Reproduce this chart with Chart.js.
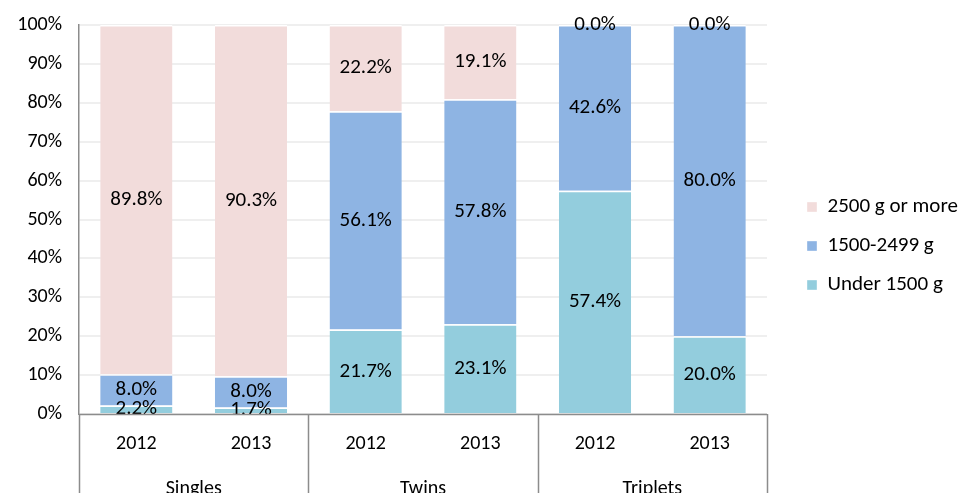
<!DOCTYPE html>
<html>
<head>
<meta charset="utf-8">
<script src="https://cdn.jsdelivr.net/npm/chart.js@4.4.1/dist/chart.umd.min.js"></script>
<style>
  html, body { margin: 0; padding: 0; background: #fff; }
  #wrap { width: 960px; height: 493px; }
</style>
</head>
<body>
<div id="wrap"><canvas id="birthChart"></canvas></div>
<script>
// Birth weight share by plurality, two years each
const years = ['2012', '2013', '2012', '2013', '2012', '2013'];
const groups = ['Singles', 'Twins', 'Triplets'];
const under1500 = [2.2, 1.7, 21.7, 23.1, 57.4, 20.0];
const mid1500to2499 = [8.0, 8.0, 56.1, 57.8, 42.6, 80.0];
const over2500 = [89.8, 90.3, 22.2, 19.1, 0.0, 0.0];

const colors = {
  teal: '#93CDDD',
  blue: '#8EB4E3',
  pink: '#F2DCDB',
  axis: '#8C8C8C',
  grid: '#EFEFEF',
  text: '#000000'
};
const fontFamily = "Carlito, Calibri, 'Open Sans', sans-serif";
const fontSize = 20;

// percentage text in the middle of every segment
const segmentLabels = {
  id: 'segmentLabels',
  afterDatasetsDraw(chart) {
    const ctx = chart.ctx;
    ctx.save();
    ctx.font = '21px ' + fontFamily;
    ctx.fillStyle = colors.text;
    ctx.textAlign = 'center';
    ctx.textBaseline = 'middle';
    chart.data.datasets.forEach((ds, di) => {
      chart.getDatasetMeta(di).data.forEach((bar, i) => {
        const y = (bar.y + bar.base) / 2;
        ctx.fillText(ds.data[i].toFixed(1) + '%', bar.x, y);
      });
    });
    ctx.restore();
  }
};

// second row of category labels with separators
const groupAxis = {
  id: 'groupAxis',
  afterDraw(chart) {
    const ctx = chart.ctx;
    const x = chart.scales.x;
    const step = (x.right - x.left) / years.length;
    const per = years.length / groups.length;
    ctx.save();
    ctx.strokeStyle = colors.axis;
    ctx.lineWidth = 1.5;
    ctx.beginPath();
    for (let k = 0; k <= groups.length; k++) {
      const px = Math.round(x.left + k * per * step) + 0.5;
      ctx.moveTo(px, x.top);
      ctx.lineTo(px, chart.height);
    }
    ctx.moveTo(x.left, x.top + 0.5);
    ctx.lineTo(x.right, x.top + 0.5);
    ctx.stroke();
    ctx.font = fontSize + 'px ' + fontFamily;
    ctx.fillStyle = colors.text;
    ctx.textAlign = 'center';
    ctx.textBaseline = 'middle';
    groups.forEach((g, i) => {
      ctx.fillText(g, x.left + (i + 0.5) * per * step, x.top + 75);
    });
    ctx.restore();
  }
};

// fixed legend column, items pushed in from its left edge
const legendColumn = 193;
const legendIndent = 22;
const legendRaise = 13;
const legendPlacement = {
  id: 'legendPlacement',
  beforeInit(chart) {
    const fit = chart.legend.fit;
    chart.legend.fit = function () {
      fit.bind(chart.legend)();
      this.width = legendColumn;
    };
  },
  afterLayout(chart) {
    chart.legend.left += legendIndent;
    chart.legend.top -= legendRaise;
    chart.legend.bottom -= legendRaise;
  }
};

const segment = { top: 1.5, left: 0, right: 0, bottom: 0 };

new Chart(document.getElementById('birthChart'), {
  type: 'bar',
  data: {
    labels: years,
    datasets: [
      {
        label: 'Under 1500 g',
        data: under1500,
        backgroundColor: colors.teal,
        borderColor: '#fff',
        borderWidth: segment,
        borderSkipped: false
      },
      {
        label: '1500-2499 g',
        data: mid1500to2499,
        backgroundColor: colors.blue,
        borderColor: '#fff',
        borderWidth: segment,
        borderSkipped: false
      },
      {
        label: '2500 g or more',
        data: over2500,
        backgroundColor: colors.pink,
        borderColor: '#fff',
        borderWidth: segment,
        borderSkipped: false
      }
    ]
  },
  options: {
    responsive: true,
    maintainAspectRatio: false,
    animation: false,
    layout: { padding: { top: 25, left: 0, right: 0, bottom: 0 } },
    datasets: {
      bar: { barPercentage: 0.63, categoryPercentage: 1.0 }
    },
    plugins: {
      legend: {
        position: 'right',
        reverse: true,
        labels: {
          boxWidth: 10,
          boxHeight: 10,
          padding: 18,
          color: colors.text,
          font: { family: fontFamily, size: 21 }
        }
      },
      tooltip: { enabled: false }
    },
    scales: {
      x: {
        stacked: true,
        grid: { display: false, drawTicks: false },
        border: { display: false },
        ticks: {
          padding: 18,
          color: colors.text,
          font: { family: fontFamily, size: fontSize }
        },
        afterFit(scale) { scale.height = 79; }
      },
      y: {
        stacked: true,
        min: 0,
        max: 100,
        grid: { color: colors.grid, lineWidth: 2, drawTicks: false },
        border: { display: true, color: colors.axis, width: 1.5 },
        ticks: {
          stepSize: 10,
          padding: 17,
          color: colors.text,
          font: { family: fontFamily, size: fontSize },
          callback: v => v + '%'
        },
        afterFit(scale) {
          scale.width = 79;
          scale.paddingTop = 0;
          scale.paddingBottom = 0;
        }
      }
    }
  },
  plugins: [segmentLabels, groupAxis, legendPlacement]
});
</script>
</body>
</html>
